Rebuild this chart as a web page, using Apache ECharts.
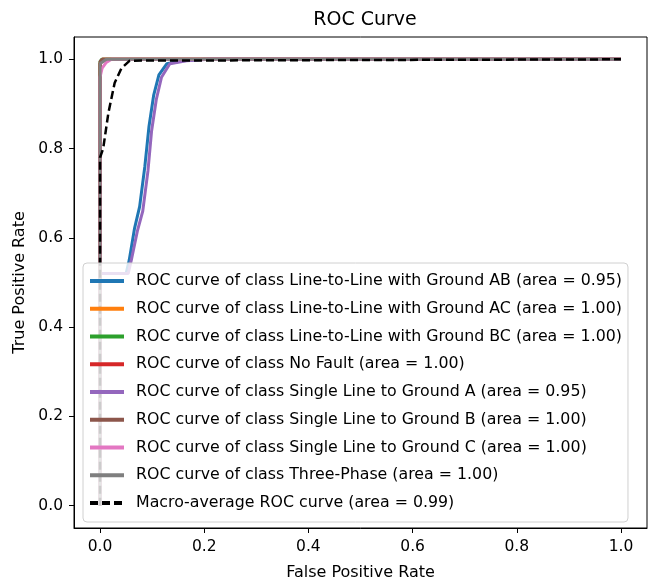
<!DOCTYPE html>
<html>
<head>
<meta charset="utf-8">
<script src="https://cdn.jsdelivr.net/npm/echarts@6/dist/echarts.min.js"></script>
<style>
  html, body { margin: 0; padding: 0; background: #fff; }
  #chart1 { width: 650px; height: 586px; }
</style>
</head>
<body>
<div id="chart1"></div>
<script>
// tick labels
var ticks = [0, 0.2, 0.4, 0.6, 0.8, 1.0];

// class names and colors (matplotlib tab10)
var classNames = ["Line-to-Line with Ground AB", "Line-to-Line with Ground AC", "Line-to-Line with Ground BC",
    "No Fault", "Single Line to Ground A", "Single Line to Ground B", "Single Line to Ground C", "Three-Phase"];
var classAreas = ["0.95", "1.00", "1.00", "1.00", "0.95", "1.00", "1.00", "1.00"];
var classColors = ["#1f77b4", "#ff7f0e", "#2ca02c", "#d62728", "#9467bd", "#8c564b", "#e377c2", "#7f7f7f"];

// ROC points
var fprAB = [0, 0, 0.05, 0.056, 0.066, 0.076, 0.086, 0.094, 0.103, 0.113, 0.128, 0.158, 0.2, 1];
var tprAB = [0, 0.52, 0.52, 0.55, 0.62, 0.67, 0.76, 0.85, 0.92, 0.965, 0.99, 0.997, 1, 1];
var fprAC = [0, 0, 0.004, 1];
var tprAC = [0, 0.99, 1, 1];
var fprBC = [0, 0, 0.003, 1];
var tprBC = [0, 0.995, 1, 1];
var fprNF = [0, 0, 0.005, 1];
var tprNF = [0, 0.99, 1, 1];
var fprA = [0, 0, 0.054, 0.06, 0.072, 0.082, 0.092, 0.099, 0.108, 0.118, 0.134, 0.166, 0.21, 1];
var tprA = [0, 0.52, 0.52, 0.55, 0.617, 0.66, 0.75, 0.84, 0.91, 0.96, 0.99, 0.997, 1, 1];
var fprB = [0, 0, 0.004, 1];
var tprB = [0, 0.995, 1, 1];
var fprC = [0, 0, 0.004, 0.012, 0.022, 1];
var tprC = [0, 0.96, 0.98, 0.993, 1, 1];
var fprTP = [0, 0, 0.012, 1];
var tprTP = [0, 0.99, 1, 1];
var fprMacro = [0, 0, 0.006, 0.016, 0.028, 0.041, 0.057, 1];
var tprMacro = [0, 0.78, 0.8, 0.88, 0.947, 0.98, 0.997, 1];

var fprList = [fprAB, fprAC, fprBC, fprNF, fprA, fprB, fprC, fprTP];
var tprList = [tprAB, tprAC, tprBC, tprNF, tprA, tprB, tprC, tprTP];

function zip(xs, ys) {
    return xs.map(function (x, i) { return [x, ys[i]]; });
}

var font = "DejaVu Sans";
var series = classNames.map(function (c, i) {
    return {
        name: "ROC curve of class " + c + " (area = " + classAreas[i] + ")",
        type: "line",
        data: zip(fprList[i], tprList[i]),
        symbol: "none",
        color: classColors[i],
        lineStyle: { width: 3, color: classColors[i] },
        animation: false
    };
});
series.push({
    name: "Macro-average ROC curve (area = 0.99)",
    type: "line",
    data: zip(fprMacro, tprMacro),
    symbol: "none",
    color: "#000",
    lineStyle: { width: 2.5, color: "#000", type: [8, 4] },
    animation: false
});

var mychart = echarts.init(document.getElementById("chart1"));
var axisFont = { fontFamily: font, fontSize: 16, color: "#000" };
var option = {
    backgroundColor: "#fff",
    animation: false,
    title: {
        text: "ROC Curve",
        left: 360,
        textAlign: "center",
        top: 6,
        textStyle: { fontFamily: font, fontSize: 19, fontWeight: "normal", color: "#000" }
    },
    grid: {
        left: 74, right: 3, top: 37, bottom: 58,
        show: true, borderColor: "#000", borderWidth: 1
    },
    legend: {
        orient: "vertical",
        left: 83,
        top: 263,
        data: series.map(function (s) { return s.name; }),
        backgroundColor: "rgba(255,255,255,0.8)",
        borderColor: "#d0d0d0",
        borderWidth: 1,
        borderRadius: 4,
        padding: [10, 6, 11, 5],
        itemWidth: 34,
        itemHeight: 14,
        itemGap: 11.75,
        selectedMode: false,
        itemStyle: { opacity: 0 },
        lineStyle: { width: 4 },
        textStyle: { fontFamily: font, fontSize: 15.8, lineHeight: 16, color: "#000", padding: [0, 0, 0, 7] }
    },
    xAxis: {
        type: "value",
        min: -0.05,
        max: 1.05,
        name: "False Positive Rate",
        nameLocation: "middle",
        nameGap: 37,
        nameTextStyle: axisFont,
        splitLine: { show: false },
        axisLine: { show: true, onZero: false, lineStyle: { color: "#000" } },
        axisTick: { show: true, length: 5, customValues: ticks, lineStyle: { color: "#000" } },
        axisLabel: {
            customValues: ticks, margin: 11,
            fontFamily: font, fontSize: 15.5, color: "#000",
            formatter: function (v) { return v.toFixed(1); }
        }
    },
    yAxis: {
        type: "value",
        min: -0.05,
        max: 1.05,
        name: "True Positive Rate",
        nameLocation: "middle",
        nameGap: 46,
        nameTextStyle: axisFont,
        splitLine: { show: false },
        axisLine: { show: true, onZero: false, lineStyle: { color: "#000" } },
        axisTick: { show: true, length: 5, customValues: ticks, lineStyle: { color: "#000" } },
        axisLabel: {
            customValues: ticks, margin: 11,
            fontFamily: font, fontSize: 15.5, color: "#000",
            formatter: function (v) { return v.toFixed(1); }
        }
    },
    series: series
};
mychart.setOption(option);
</script>
</body>
</html>
